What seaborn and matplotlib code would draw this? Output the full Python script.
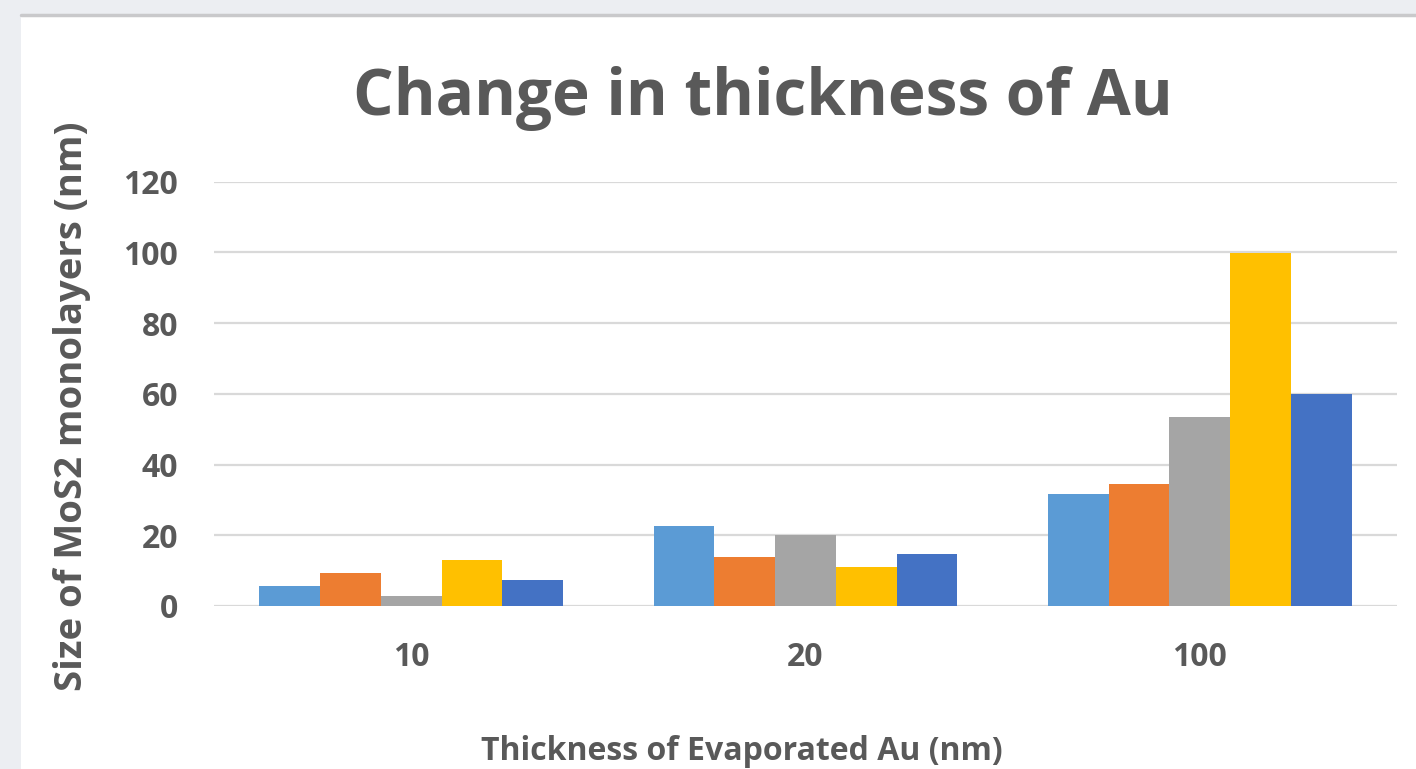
import pandas as pd
import numpy as np
import matplotlib.pyplot as plt
import seaborn as sns
from matplotlib.patches import Rectangle
from matplotlib.lines import Line2D

# values
thickness = ["10", "20", "100"]
series_names = ["Series 1", "Series 2", "Series 3", "Series 4", "Series 5"]
series_1 = [5.6, 22.7, 31.8]
series_2 = [9.2, 13.8, 34.4]
series_3 = [2.9, 20.0, 53.5]
series_4 = [12.9, 10.9, 99.8]
series_5 = [7.4, 14.6, 59.8]
colors = ["#5B9BD5", "#ED7D31", "#A5A5A5", "#FFC000", "#4472C4"]

rows = []
for name, vals in zip(series_names, [series_1, series_2, series_3, series_4, series_5]):
    for t, v in zip(thickness, vals):
        rows.append({"thickness": t, "series": name, "size": v})
df = pd.DataFrame(rows)

sns.set_theme(style="white")
plt.rcParams['font.family'] = ['Open Sans', 'DejaVu Sans']
text_color = "#595959"
frame_grey = "#eceef2"

fig = plt.figure(figsize=(14.16, 7.69), dpi=100, facecolor="white")
# grey window frame of the screenshot (left strip and top strip)
fig.patches.append(Rectangle((0, 0), 21 / 1416, 1, transform=fig.transFigure,
                             facecolor=frame_grey, edgecolor="none"))
fig.patches.append(Rectangle((0, 1 - 14 / 769), 1, 14 / 769, transform=fig.transFigure,
                             facecolor=frame_grey, edgecolor="none"))
fig.lines.append(Line2D([21 / 1416, 1], [1 - 14.5 / 769, 1 - 14.5 / 769], transform=fig.transFigure,
                        color="#c9c9cb", linewidth=2.5))

ax = fig.add_axes([214 / 1416, 163 / 769, 1183 / 1416, 424.5 / 769])

sns.barplot(data=df, x="thickness", y="size", hue="series", order=thickness,
            hue_order=series_names, palette=colors, width=0.77, linewidth=0,
            saturation=1, legend=False, ax=ax, zorder=3)

ax.set_ylim(0, 120)
ax.set_yticks(np.arange(0, 121, 20))
ax.grid(axis="y", color="#d9d9d9", linewidth=1.6, zorder=0)
ax.set_axisbelow(True)
for s in ax.spines.values():
    s.set_visible(False)

ax.tick_params(axis="both", length=0, labelsize=23, labelcolor=text_color)
ax.tick_params(axis="y", pad=26)
ax.tick_params(axis="x", pad=25)
for lab in ax.get_xticklabels() + ax.get_yticklabels():
    lab.set_fontweight("bold")

ax.set_xlabel("Thickness of Evaporated Au (nm)", fontsize=23, fontweight="bold", color=text_color)
ax.set_ylabel("Size of MoS2 monolayers (nm)", fontsize=27.5, fontweight="bold", color=text_color)
ax.xaxis.set_label_coords((742 - 214) / 1183, (606 - 752) / 424.5)
ax.xaxis.label.set_va("center")
ax.yaxis.set_label_coords((72 - 214) / 1183, (606 - 406) / 424.5)
ax.yaxis.label.set_va("center")

fig.text(763 / 1416, 1 - 115 / 769, "Change in thickness of Au", ha="center", va="baseline",
         fontsize=46, fontweight="bold", color=text_color)

fig.savefig("out.png", dpi=100, facecolor=fig.get_facecolor())
